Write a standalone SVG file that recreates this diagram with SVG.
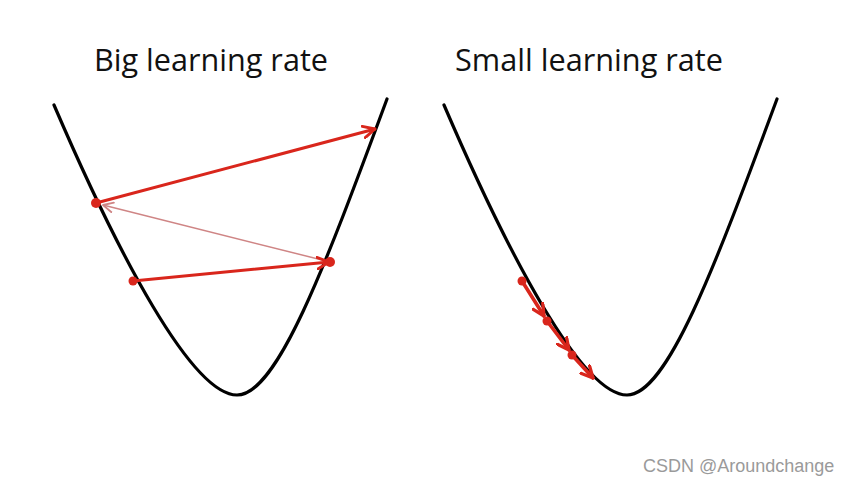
<svg xmlns="http://www.w3.org/2000/svg" width="849" height="484" viewBox="0 0 849 484">
  <style>
    .title { font-family: "Open Sans", "Liberation Sans", sans-serif; font-size: 31px; fill: #111; }
    .curve { fill: none; stroke: #000; stroke-width: 3.2; stroke-linecap: round; }
    .arrow { fill: none; stroke: #d9261c; stroke-width: 3; stroke-linecap: round; }
    .arrow-s { fill: none; stroke: #d9261c; stroke-width: 3.6; stroke-linecap: round; }
    .faint { fill: none; stroke: #cf8585; stroke-width: 1.5; }
    .dot { fill: #d9261c; }
    .wm { font-family: "Liberation Sans", Arial, sans-serif; font-size: 18px; fill: #9a9a9a; }
  </style>
  <defs>
    <marker id="ah" viewBox="0 0 12 12" refX="11" refY="6" markerWidth="14" markerHeight="14" markerUnits="userSpaceOnUse" orient="auto">
      <path d="M1,1 L11,6 L1,11" fill="none" stroke="#d9261c" stroke-width="2.5" stroke-linecap="round" stroke-linejoin="round"/>
    </marker>
    <marker id="ahs" viewBox="0 0 12 12" refX="11" refY="6" markerWidth="14" markerHeight="14" markerUnits="userSpaceOnUse" orient="auto">
      <path d="M1,1 L11,6 L1,11" fill="none" stroke="#d9261c" stroke-width="2.8" stroke-linecap="round" stroke-linejoin="round"/>
    </marker>
    <marker id="ahf" viewBox="0 0 12 12" refX="11" refY="6" markerWidth="12" markerHeight="12" markerUnits="userSpaceOnUse" orient="auto">
      <path d="M1,1 L11,6 L1,11" fill="none" stroke="#cf8585" stroke-width="1.8" stroke-linecap="round" stroke-linejoin="round"/>
    </marker>
  </defs>
  <rect width="849" height="484" fill="#fff"/>

  <g id="big">
    <text class="title" x="211" y="71" text-anchor="middle" textLength="234" lengthAdjust="spacingAndGlyphs">Big learning rate</text>
    <path class="curve" d="M54,105 C118.5,255 192,395 237,395 C277,395 324,269 387,99"/>
    <g id="big-steps">
      <line class="faint" x1="330" y1="262" x2="103" y2="205" marker-end="url(#ahf)"/>
      <line class="arrow" x1="133" y1="281" x2="329" y2="262" marker-end="url(#ah)"/>
      <line class="arrow" x1="96" y1="203" x2="375" y2="129" marker-end="url(#ah)"/>
      <circle class="dot" cx="133" cy="281" r="4.5"/>
      <circle class="dot" cx="330" cy="262" r="5"/>
      <circle class="dot" cx="96" cy="203" r="5"/>
    </g>
  </g>

  <g id="small">
    <text class="title" x="589" y="71" text-anchor="middle" textLength="268" lengthAdjust="spacingAndGlyphs">Small learning rate</text>
    <path class="curve" d="M444,105 C508.5,255 582,395 627,395 C667,395 714,269 777,99"/>
    <g id="small-steps">
      <line class="arrow-s" x1="522" y1="281" x2="544" y2="316" marker-end="url(#ahs)"/>
      <line class="arrow-s" x1="547" y1="321" x2="569" y2="350" marker-end="url(#ahs)"/>
      <line class="arrow-s" x1="572" y1="355" x2="593" y2="378" marker-end="url(#ahs)"/>
      <circle class="dot" cx="522" cy="281" r="4.5"/>
      <circle class="dot" cx="547" cy="321" r="4.5"/>
      <circle class="dot" cx="572" cy="355" r="4.5"/>
    </g>
  </g>

  <text class="wm" x="643" y="472">CSDN @Aroundchange</text>
</svg>
